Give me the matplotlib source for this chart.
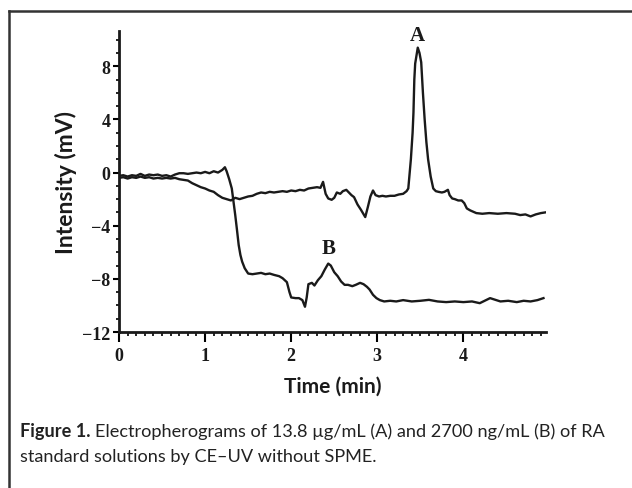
import matplotlib
matplotlib.use('Agg')
import matplotlib.pyplot as plt
from matplotlib.lines import Line2D
from matplotlib.ticker import MultipleLocator

# electropherogram A (13.8 ug/mL)
time_a = [0.00, 0.05, 0.10, 0.15, 0.20, 0.25, 0.30, 0.35, 0.40, 0.45, 0.50, 0.55, 0.60, 0.65,
          0.70, 0.75, 0.80, 0.85, 0.90, 0.95, 1.00, 1.05, 1.10, 1.15, 1.20, 1.25, 1.30, 1.35,
          1.40, 1.45, 1.50, 1.55, 1.60, 1.65, 1.70, 1.75, 1.80, 1.85, 1.90, 1.95, 2.00, 2.05,
          2.10, 2.15, 2.20, 2.25, 2.30, 2.34, 2.37, 2.40, 2.43, 2.47, 2.50, 2.53, 2.57, 2.60,
          2.64, 2.67, 2.70, 2.73, 2.77, 2.81, 2.86, 2.89, 2.92, 2.95, 2.98, 3.02, 3.06, 3.10,
          3.15, 3.20, 3.25, 3.30, 3.34, 3.36, 3.39, 3.41, 3.42, 3.43, 3.44, 3.46, 3.47, 3.49,
          3.51, 3.53, 3.55, 3.57, 3.59, 3.62, 3.65, 3.68, 3.71, 3.75, 3.78, 3.82, 3.84, 3.87,
          3.90, 3.94, 3.98, 4.01, 4.04, 4.08, 4.15, 4.22, 4.30, 4.40, 4.50, 4.60, 4.66, 4.72,
          4.78, 4.84, 4.90, 4.95]
signal_a = [-0.40, -0.35, -0.45, -0.35, -0.40, -0.30, -0.40, -0.35, -0.45, -0.40, -0.45, -0.40,
            -0.45, -0.40, -0.50, -0.55, -0.60, -0.80, -0.95, -1.10, -1.20, -1.35, -1.45, -1.70,
            -1.90, -2.00, -2.10, -1.90, -2.00, -1.90, -1.80, -1.75, -1.60, -1.50, -1.55, -1.45,
            -1.50, -1.45, -1.40, -1.45, -1.35, -1.40, -1.30, -1.35, -1.20, -1.15, -1.10, -1.15,
            -0.70, -1.60, -1.95, -2.05, -1.90, -1.50, -1.60, -1.40, -1.30, -1.50, -1.70, -1.85,
            -2.40, -2.80, -3.35, -2.60, -1.80, -1.35, -1.70, -1.80, -1.75, -1.80, -1.75, -1.75,
            -1.65, -1.60, -1.40, -1.20, 1.00, 3.00, 4.50, 7.00, 8.20, 9.00, 9.40, 9.00, 8.30,
            6.00, 4.00, 2.30, 1.00, -0.30, -1.20, -1.40, -1.45, -1.50, -1.45, -1.30, -1.70,
            -1.95, -2.00, -2.10, -2.10, -2.30, -2.70, -2.85, -3.05, -3.10, -3.05, -3.10, -3.05,
            -3.10, -3.20, -3.15, -3.30, -3.15, -3.05, -3.00]

# electropherogram B (2700 ng/mL)
time_b = [0.00, 0.05, 0.10, 0.15, 0.20, 0.25, 0.30, 0.35, 0.40, 0.45, 0.50, 0.55, 0.60, 0.65,
          0.70, 0.75, 0.80, 0.85, 0.90, 0.95, 1.00, 1.05, 1.10, 1.15, 1.20, 1.23, 1.25, 1.28,
          1.31, 1.33, 1.35, 1.37, 1.39, 1.41, 1.43, 1.46, 1.50, 1.55, 1.60, 1.65, 1.70, 1.75,
          1.80, 1.86, 1.90, 1.95, 1.98, 2.00, 2.05, 2.09, 2.13, 2.16, 2.18, 2.20, 2.24, 2.27,
          2.31, 2.35, 2.39, 2.43, 2.46, 2.50, 2.54, 2.58, 2.62, 2.66, 2.71, 2.75, 2.80, 2.84,
          2.88, 2.91, 2.95, 2.99, 3.03, 3.08, 3.15, 3.22, 3.30, 3.40, 3.50, 3.60, 3.70, 3.80,
          3.90, 4.00, 4.10, 4.19, 4.31, 4.43, 4.52, 4.62, 4.70, 4.78, 4.86, 4.93]
signal_b = [-0.25, -0.20, -0.30, -0.20, -0.25, -0.10, -0.25, -0.15, -0.20, -0.15, -0.25, -0.20,
            -0.30, -0.15, -0.05, -0.05, -0.10, -0.05, 0.00, -0.05, 0.05, -0.05, 0.10, 0.00,
            0.20, 0.40, 0.10, -0.50, -1.20, -2.20, -3.20, -4.30, -5.45, -6.20, -6.70, -7.20,
            -7.60, -7.65, -7.60, -7.55, -7.65, -7.60, -7.70, -7.80, -7.95, -8.25, -9.00, -9.40,
            -9.45, -9.45, -9.60, -10.10, -9.40, -8.40, -8.30, -8.50, -8.10, -7.80, -7.30, -6.85,
            -7.00, -7.50, -7.80, -8.20, -8.45, -8.45, -8.55, -8.45, -8.30, -8.40, -8.60, -8.80,
            -9.20, -9.45, -9.60, -9.70, -9.65, -9.70, -9.60, -9.70, -9.65, -9.58, -9.70, -9.75,
            -9.70, -9.75, -9.70, -9.83, -9.45, -9.70, -9.65, -9.75, -9.65, -9.70, -9.60, -9.45]

x_ticks = [0, 1, 2, 3, 4]
y_ticks = [8, 4, 0, -4, -8, -12]
caption_bold = 'Figure 1.'
caption_line1 = 'Electropherograms of 13.8 \u00b5g/mL (A) and 2700 ng/mL (B) of RA'
caption_line2 = 'standard solutions by CE\u2013UV without SPME.'

ink = '#1a1a1a'
sans = ['Lato', 'DejaVu Sans']
serif = ['Liberation Serif', 'DejaVu Serif']

fig = plt.figure(figsize=(6.32, 4.89), dpi=100)
ax = fig.add_axes([0.1883, 0.319, 0.6757, 0.616])

ax.plot(time_a, signal_a, color=ink, lw=1.7)
ax.plot(time_b, signal_b, color=ink, lw=1.7)

ax.set_xlim(0, 4.96)
ax.set_ylim(-12, 10.67)

for side in ['top', 'right']:
    ax.spines[side].set_visible(False)
for side in ['left', 'bottom']:
    ax.spines[side].set_linewidth(2)
    ax.spines[side].set_color(ink)

ax.set_xticks(x_ticks)
ax.set_yticks(y_ticks)
ax.xaxis.set_minor_locator(MultipleLocator(0.1))
ax.yaxis.set_minor_locator(MultipleLocator(1))
ax.tick_params(axis='x', which='major', direction='out', length=7, width=1.5, pad=4)
ax.tick_params(axis='x', which='minor', direction='out', length=3, width=1.2)
ax.tick_params(axis='y', which='major', direction='out', length=4, width=1.5, pad=2)
ax.tick_params(axis='y', which='minor', direction='out', length=2, width=1.2)

for lab in ax.get_xticklabels() + ax.get_yticklabels():
    lab.set_family(serif)
    lab.set_fontsize(13)
    lab.set_fontweight('bold')
    lab.set_color(ink)

ax.set_ylabel('Intensity (mV)', family=sans, fontsize=16.5, fontweight='bold',
              color=ink, labelpad=4)
ax.set_xlabel('Time (min)', family=sans, fontsize=15, fontweight='bold',
              color=ink, labelpad=8)

ax.text(3.47, 9.6, 'A', ha='center', va='bottom', fontsize=15, fontweight='bold',
        family=serif, color=ink)
ax.text(2.44, -6.4, 'B', ha='center', va='bottom', fontsize=15, fontweight='bold',
        family=serif, color=ink)

# frame lines: top and left only
fig.add_artist(Line2D([9 / 632, 1.0], [1 - 12 / 489, 1 - 12 / 489], color='#333333', lw=1.8))
fig.add_artist(Line2D([9 / 632, 9 / 632], [0, 1 - 12 / 489], color='#333333', lw=1.8))

# caption, scaled so that the first line spans about 590 px
cap_size = 14
t_bold = fig.text(20 / 632, 1 - 437 / 489, caption_bold, family=sans, fontsize=cap_size,
                  fontweight='bold', color='#222222', va='baseline')
t_rest = fig.text(0, 1 - 437 / 489, caption_line1, family=sans, fontsize=cap_size,
                  color='#222222', va='baseline')
t_two = fig.text(20 / 632, 1 - 462 / 489, caption_line2, family=sans, fontsize=cap_size,
                 color='#222222', va='baseline')
r = fig.canvas.get_renderer()
gap = 5
w = t_bold.get_window_extent(r).width + gap + t_rest.get_window_extent(r).width
scale = 590 / w
for t in (t_bold, t_rest, t_two):
    t.set_fontsize(cap_size * scale)
wb = t_bold.get_window_extent(r).width
t_rest.set_x((20 + wb + gap * scale) / 632)

fig.savefig('out.png', dpi=100)
